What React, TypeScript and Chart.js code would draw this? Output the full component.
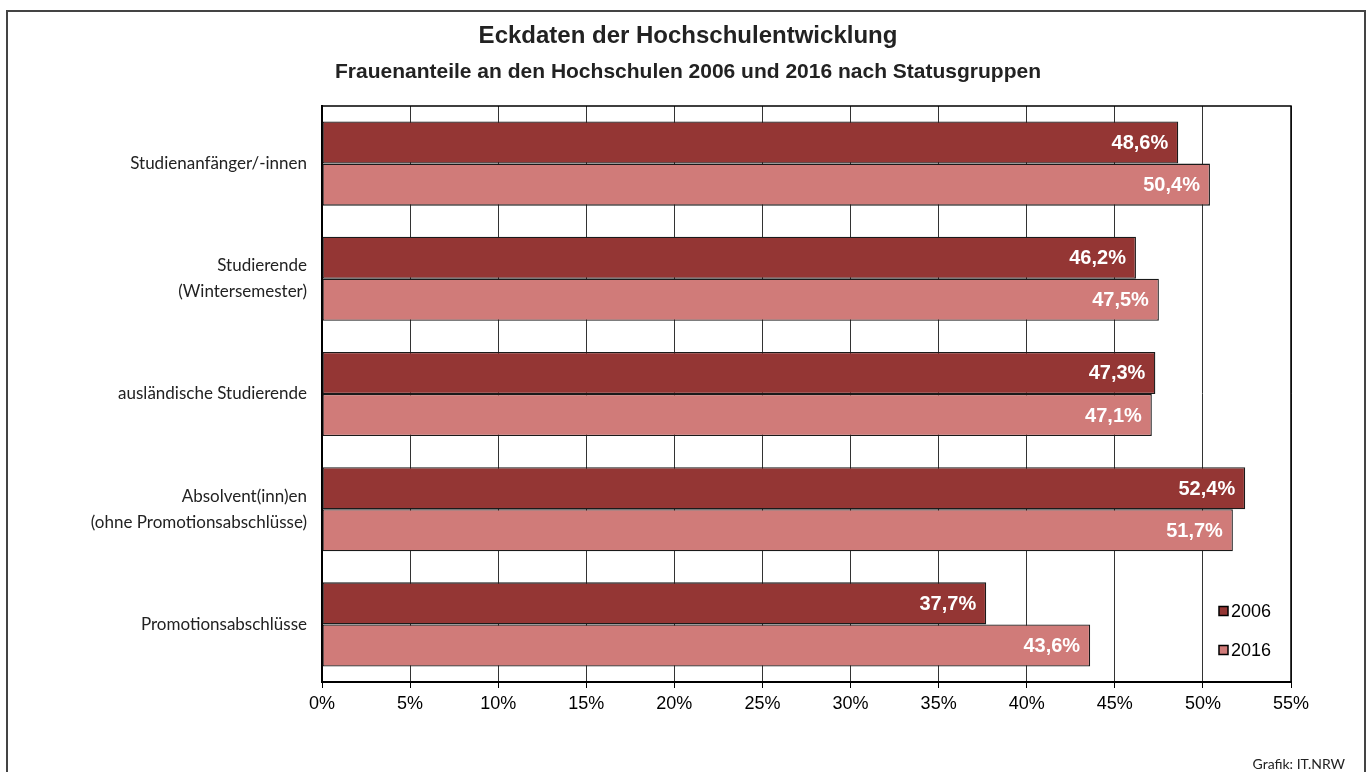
import React, { useEffect, useRef } from "react";
import { Chart, registerables } from "chart.js";

Chart.register(...registerables);

const categories: (string | string[])[] = [
  "Studienanfänger/-innen",
  ["Studierende", "(Wintersemester)"],
  "ausländische Studierende",
  ["Absolvent(inn)en", "(ohne Promotionsabschlüsse)"],
  "Promotionsabschlüsse",
];
const values2006 = [48.6, 46.2, 47.3, 52.4, 37.7];
const values2016 = [50.4, 47.5, 47.1, 51.7, 43.6];
const seriesNames = ["2006", "2016"];
const colors = ["#943634", "#D07B79"];
const xTickStep = 5;
const xMax = 55;
const title = "Eckdaten der Hochschulentwicklung";
const subtitle = "Frauenanteile an den Hochschulen 2006 und 2016 nach Statusgruppen";
const credit = "Grafik: IT.NRW";

const fmt = (v: number) => v.toFixed(1).replace(".", ",") + "%";

export default function App() {
  const ref = useRef<HTMLCanvasElement>(null);
  useEffect(() => {
    if (!ref.current) return;
    const decor = {
      id: "decor",
      beforeDraw(chart: any) {
        const ctx = chart.ctx;
        ctx.save();
        ctx.fillStyle = "#fff";
        ctx.fillRect(0, 0, chart.width, chart.height);
        ctx.strokeStyle = "#444";
        ctx.lineWidth = 2;
        ctx.strokeRect(7, 11, 1358, 800);
        ctx.fillStyle = "#222";
        ctx.textAlign = "center";
        ctx.textBaseline = "middle";
        ctx.font = "bold 24px 'Liberation Sans', Arial, sans-serif";
        ctx.fillText(title, 688, 36);
        ctx.font = "bold 21px 'Liberation Sans', Arial, sans-serif";
        ctx.fillText(subtitle, 688, 72);
        ctx.font = "14px Lato, 'Open Sans', sans-serif";
        ctx.textAlign = "right";
        ctx.fillText(credit, 1345, 764);
        ctx.restore();
      },
      afterDatasetsDraw(chart: any) {
        const ctx = chart.ctx;
        const a = chart.chartArea;
        ctx.save();
        ctx.strokeStyle = "#000";
        ctx.lineWidth = 1.5;
        ctx.beginPath();
        ctx.moveTo(a.left, a.top);
        ctx.lineTo(a.right, a.top);
        ctx.lineTo(a.right, a.bottom);
        ctx.stroke();
        ctx.fillStyle = "#fff";
        ctx.font = "bold 20px 'Liberation Sans', Arial, sans-serif";
        ctx.textAlign = "right";
        ctx.textBaseline = "middle";
        chart.data.datasets.forEach((ds: any, i: number) => {
          const meta = chart.getDatasetMeta(i);
          meta.data.forEach((bar: any, j: number) => {
            ctx.fillText(fmt(ds.data[j]), bar.x - 10, bar.y + 1);
          });
        });
        const ly = [611, 650];
        ctx.font = "18px 'Liberation Sans', Arial, sans-serif";
        ctx.textAlign = "left";
        chart.data.datasets.forEach((ds: any, i: number) => {
          const s = 9;
          ctx.fillStyle = ds.backgroundColor;
          ctx.fillRect(1219, ly[i] - s / 2, s, s);
          ctx.strokeStyle = "#000";
          ctx.lineWidth = 1.5;
          ctx.strokeRect(1219, ly[i] - s / 2, s, s);
          ctx.fillStyle = "#000";
          ctx.fillText(ds.label, 1231, ly[i] + 1);
        });
        ctx.restore();
      },
    };
    const chart = new Chart(ref.current, {
      type: "bar",
      data: {
        labels: categories as any,
        datasets: [
          {
            label: seriesNames[0],
            data: values2006,
            backgroundColor: colors[0],
            borderColor: "#1a1a1a",
            borderWidth: 1.3,
            borderSkipped: false,
          },
          {
            label: seriesNames[1],
            data: values2016,
            backgroundColor: colors[1],
            borderColor: "#1a1a1a",
            borderWidth: 1.3,
            borderSkipped: false,
          },
        ],
      },
      options: {
        indexAxis: "y",
        responsive: false,
        animation: false,
        devicePixelRatio: 1,
        layout: { padding: { top: 106, right: 79, left: 0, bottom: 0 } },
        plugins: {
          legend: { display: false },
          title: { display: false },
          tooltip: { enabled: false },
        },
        datasets: { bar: { categoryPercentage: 0.73, barPercentage: 1 } },
        scales: {
          x: {
            min: 0,
            max: xMax,
            ticks: {
              stepSize: xTickStep,
              callback: (v: any) => v + "%",
              color: "#000",
              font: { family: "'Liberation Sans', Arial, sans-serif", size: 18 },
              padding: 5,
              maxRotation: 0,
            },
            grid: { color: "#333", lineWidth: 1, tickLength: 6, tickColor: "#000" },
            border: { color: "#000", width: 2 },
            afterFit: (s: any) => {
              s.height = 90;
            },
          },
          y: {
            type: "category",
            ticks: {
              color: "#222",
              font: { family: "Lato, 'Open Sans', sans-serif", size: 17, lineHeight: 1.55 },
              padding: 15,
            },
            grid: { display: false, drawTicks: false },
            border: { color: "#000", width: 2 },
            afterFit: (s: any) => {
              s.width = 322;
            },
          },
        },
      },
      plugins: [decor],
    });
    return () => chart.destroy();
  }, []);
  return (
    <div style={{ position: "fixed", left: 0, top: 0, width: 1370, height: 772 }}>
      <canvas ref={ref} width={1370} height={772} style={{ width: 1370, height: 772 }} />
    </div>
  );
}
